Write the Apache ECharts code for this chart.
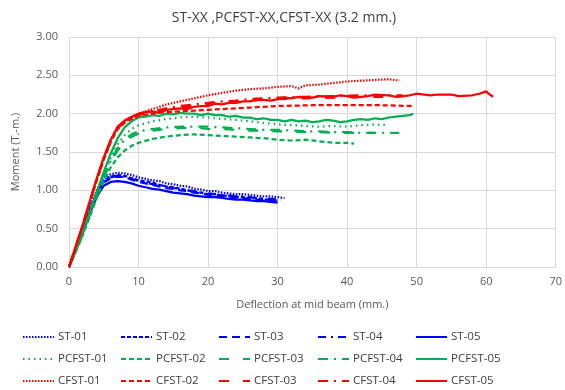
<!DOCTYPE html>
<html>
<head>
<meta charset="utf-8">
<script src="https://cdn.jsdelivr.net/npm/echarts@6/dist/echarts.min.js"></script>
<style>
  html, body { margin: 0; padding: 0; background: #fff; }
  #chart { width: 565px; height: 390px; }
</style>
</head>
<body>
<div id="chart"></div>
<script>
// 数据 [挠度 mm, 弯矩 T-m]
const st01 = [[0,0],[1,0.25],[2,0.5],[3,0.78],[4,1.0],[5,1.15],[6,1.21],[7,1.23],[8,1.22],[9,1.2],[10,1.17],[11,1.15],[12,1.13],[13,1.12],[14,1.09],[15,1.08],[16,1.06],[17,1.05],[18,1.02],[19,1.01],[20,0.99],[21,0.99],[22,0.97],[23,0.96],[24,0.95],[25,0.95],[26,0.94],[27,0.93],[28,0.92],[29,0.92],[30,0.91],[31,0.9]]
const st02 = [[0,0],[1,0.24],[2,0.48],[3,0.75],[4,0.97],[5,1.12],[6,1.18],[7,1.2],[8,1.19],[9,1.16],[10,1.13],[11,1.12],[12,1.1],[13,1.07],[14,1.05],[15,1.04],[16,1.02],[17,1.0],[18,0.98],[19,0.97],[20,0.95],[21,0.95],[22,0.93],[23,0.93],[24,0.92],[25,0.91],[26,0.9],[27,0.9],[28,0.88],[29,0.88],[30,0.87]]
const st03 = [[0,0],[1,0.23],[2,0.47],[3,0.73],[4,0.95],[5,1.1],[6,1.16],[7,1.18],[8,1.17],[9,1.14],[10,1.11],[11,1.09],[12,1.07],[13,1.05],[14,1.03],[15,1.02],[16,1.0],[17,0.99],[18,0.97],[19,0.96],[20,0.94],[21,0.93],[22,0.92],[23,0.91],[24,0.9],[25,0.9],[26,0.89],[27,0.88],[28,0.87],[29,0.87],[30,0.86]]
const st04 = [[0,0],[1,0.24],[2,0.48],[3,0.74],[4,0.96],[5,1.11],[6,1.17],[7,1.19],[8,1.18],[9,1.15],[10,1.12],[11,1.1],[12,1.08],[13,1.07],[14,1.05],[15,1.03],[16,1.02],[17,1.0],[18,0.99],[19,0.97],[20,0.96],[21,0.95],[22,0.94],[23,0.93],[24,0.92],[25,0.92],[26,0.91],[27,0.9],[28,0.89],[29,0.89],[30.5,0.88]]
const st05 = [[0,0],[1,0.22],[2,0.45],[3,0.7],[4,0.92],[5,1.06],[6,1.11],[7,1.12],[8,1.11],[9,1.09],[10,1.06],[11,1.04],[12,1.02],[13,1.01],[14,0.99],[15,0.97],[16,0.96],[17,0.95],[18,0.93],[19,0.92],[20,0.91],[21,0.91],[22,0.9],[23,0.89],[24,0.88],[25,0.88],[26,0.87],[27,0.86],[28,0.86],[29,0.85],[30,0.84]]

const pcfst01 = [[0,0],[1,0.22],[2,0.45],[3,0.7],[4,0.95],[5,1.2],[6,1.42],[7,1.6],[8,1.72],[9,1.8],[10,1.85],[12,1.9],[14,1.93],[16,1.95],[18,1.96],[20,1.95],[22,1.93],[24,1.92],[26,1.9],[28,1.88],[30,1.86],[32,1.85],[34,1.84],[36,1.83],[38,1.84],[40,1.83],[42,1.85],[44,1.86],[46,1.85]]
const pcfst02 = [[0,0],[1,0.2],[2,0.42],[3,0.66],[4,0.9],[5,1.12],[6,1.3],[7,1.43],[8,1.52],[9,1.58],[10,1.62],[12,1.67],[14,1.7],[16,1.72],[18,1.73],[20,1.72],[22,1.71],[24,1.7],[26,1.69],[28,1.68],[30,1.66],[32,1.65],[34,1.66],[36,1.64],[38,1.62],[40,1.62],[41,1.61]]
const pcfst03 = [[0,0],[1,0.21],[2,0.43],[3,0.68],[4,0.93],[5,1.17],[6,1.37],[7,1.52],[8,1.62],[9,1.7],[10,1.74],[12,1.78],[14,1.8],[16,1.81],[18,1.82],[20,1.8],[22,1.8],[24,1.79],[26,1.78],[28,1.78],[30,1.77],[32,1.77],[34,1.76],[36,1.76],[38,1.75],[40,1.75],[42,1.75],[44,1.75]]
const pcfst04 = [[0,0],[1,0.21],[2,0.44],[3,0.69],[4,0.94],[5,1.18],[6,1.39],[7,1.55],[8,1.66],[9,1.73],[10,1.77],[12,1.8],[14,1.82],[16,1.83],[18,1.83],[20,1.83],[22,1.82],[24,1.81],[26,1.8],[28,1.79],[30,1.79],[32,1.78],[34,1.77],[36,1.77],[38,1.76],[40,1.76],[42,1.75],[44,1.75],[46,1.75],[47.5,1.75]]
const pcfst05 = [[0,0],[1,0.22],[2,0.46],[3,0.72],[4,0.98],[5,1.24],[6,1.48],[7,1.68],[8,1.82],[9,1.9],[10,1.95],[11,1.96],[12,1.98],[13,1.97],[14,2.0],[15,1.99],[16,2.01],[17,2.0],[18,2.0],[19,1.98],[20,2.0],[21,1.98],[22,1.98],[23,1.96],[24,1.97],[25,1.95],[26,1.95],[27,1.93],[28,1.94],[29,1.92],[30,1.92],[31,1.9],[32,1.92],[33,1.9],[34,1.91],[35,1.89],[36,1.9],[37,1.92],[38,1.91],[39,1.89],[40,1.9],[41,1.92],[42,1.93],[43,1.92],[44,1.94],[45,1.93],[46,1.95],[47,1.96],[48,1.97],[49,1.98],[49.5,2.0]]

const cfst01 = [[0,0],[1,0.27],[2,0.55],[3,0.85],[4,1.15],[5,1.42],[6,1.65],[7,1.82],[8,1.9],[9,1.95],[10,2.0],[12,2.06],[14,2.12],[16,2.16],[18,2.2],[20,2.24],[22,2.27],[24,2.3],[26,2.32],[28,2.33],[30,2.35],[32,2.36],[33,2.33],[34,2.37],[36,2.38],[38,2.4],[40,2.42],[42,2.43],[44,2.44],[46,2.45],[47.5,2.43]]
const cfst02 = [[0,0],[1,0.27],[2,0.54],[3,0.84],[4,1.13],[5,1.4],[6,1.63],[7,1.8],[8,1.88],[9,1.93],[10,1.97],[12,2.0],[14,2.02],[16,2.03],[18,2.04],[20,2.05],[22,2.06],[24,2.07],[26,2.08],[28,2.09],[30,2.1],[35,2.11],[40,2.11],[45,2.11],[49.5,2.1]]
const cfst03 = [[0,0],[1,0.27],[2,0.55],[3,0.85],[4,1.14],[5,1.41],[6,1.64],[7,1.81],[8,1.89],[9,1.94],[10,1.98],[12,2.02],[14,2.05],[16,2.08],[18,2.1],[20,2.12],[22,2.14],[24,2.15],[26,2.17],[28,2.18],[30,2.19],[34,2.2],[38,2.21],[42,2.22],[46,2.22],[48,2.23]]
const cfst04 = [[0,0],[1,0.27],[2,0.55],[3,0.86],[4,1.15],[5,1.42],[6,1.65],[7,1.82],[8,1.9],[9,1.95],[10,1.99],[12,2.03],[14,2.07],[16,2.1],[18,2.12],[20,2.14],[22,2.16],[24,2.17],[26,2.19],[28,2.2],[30,2.21],[34,2.22],[38,2.23],[42,2.24],[46,2.24],[48,2.24]]
const cfst05 = [[0,0],[1,0.28],[2,0.56],[3,0.86],[4,1.16],[5,1.43],[6,1.66],[7,1.83],[8,1.91],[9,1.96],[10,2.0],[11,2.02],[12,2.03],[13,2.01],[14,2.05],[15,2.06],[16,2.07],[17,2.06],[18,2.09],[19,2.1],[20,2.1],[21,2.13],[22,2.12],[23,2.14],[24,2.14],[25,2.16],[26,2.16],[27,2.18],[28,2.18],[29,2.17],[30,2.19],[31,2.21],[32,2.2],[33,2.22],[35,2.21],[36,2.23],[38,2.22],[39,2.24],[40,2.23],[41,2.21],[43,2.23],[44,2.25],[46,2.24],[47,2.22],[49,2.24],[50,2.26],[52,2.24],[53,2.25],[55,2.25],[56,2.23],[58,2.24],[59,2.26],[60,2.29],[60.5,2.25],[61,2.22]]

const xTicks = [0, 70, 10]
const yTicks = [0, 3, 0.5]

const BLUE = "#0000ff"
const GREEN = "#00b050"
const RED = "#ff0000"

// 线型：点线、短划线、长划线、点划线、实线
const groups = [
  { color: BLUE, dash: [[1.5, 1.5], [4, 2], [8, 5], [8, 5, 2, 5], "solid"], names: ["ST-01", "ST-02", "ST-03", "ST-04", "ST-05"], data: [st01, st02, st03, st04, st05] },
  { color: GREEN, dash: [[1.5, 4], [5, 3], [10, 14], [10, 6, 2, 6], "solid"], names: ["PCFST-01", "PCFST-02", "PCFST-03", "PCFST-04", "PCFST-05"], data: [pcfst01, pcfst02, pcfst03, pcfst04, pcfst05] },
  { color: RED, dash: [[1.5, 1.5], [5, 3], [10, 14], [10, 6, 2, 6], "solid"], names: ["CFST-01", "CFST-02", "CFST-03", "CFST-04", "CFST-05"], data: [cfst01, cfst02, cfst03, cfst04, cfst05] }
]

const colLeft = [17, 115, 213, 312, 410]

const series = []
const legends = []
groups.forEach((g, gi) => {
  g.names.forEach((n, i) => {
    series.push({
      name: n,
      type: "line",
      data: g.data[i],
      symbol: "none",
      lineStyle: { color: g.color, width: 2.25, type: g.dash[i] },
      itemStyle: { color: g.color }
    })
    legends.push({
      data: [n],
      left: colLeft[i],
      top: 326 + gi * 22,
      itemWidth: 31,
      itemHeight: 14,
      selectedMode: false,
      itemStyle: { opacity: 0 },
      textStyle: { color: "#404040", fontSize: 11.5, fontFamily: "Open Sans", padding: [0, 0, 0, -1] }
    })
  })
})

const chart = echarts.init(document.getElementById("chart"), null, { renderer: "canvas" })

const option = {
  animation: false,
  title: {
    text: "ST-XX ,PCFST-XX,CFST-XX (3.2 mm.)",
    left: 279,
    textAlign: "center",
    top: 6,
    textStyle: { color: "#404040", fontSize: 14, fontWeight: "normal", fontFamily: "Open Sans" }
  },
  legend: legends,
  grid: { left: 69, right: 8, top: 37, bottom: 123 },
  xAxis: {
    type: "value",
    min: xTicks[0],
    max: xTicks[1],
    interval: xTicks[2],
    name: "Deflection at mid beam (mm.)",
    nameLocation: "middle",
    nameGap: 32,
    nameTextStyle: { color: "#595959", fontSize: 11, fontFamily: "Open Sans" },
    axisLine: { lineStyle: { color: "#d9d9d9" } },
    axisTick: { show: false },
    axisLabel: { color: "#595959", fontSize: 11, margin: 9, fontFamily: "Open Sans" },
    splitLine: { show: true, lineStyle: { color: "#d9d9d9" } }
  },
  yAxis: {
    type: "value",
    min: yTicks[0],
    max: yTicks[1],
    interval: yTicks[2],
    name: "Moment (T.-m.)",
    nameLocation: "middle",
    nameGap: 48,
    nameTextStyle: { color: "#595959", fontSize: 11, fontFamily: "Open Sans" },
    axisLine: { show: false },
    axisTick: { show: false },
    axisLabel: { color: "#595959", fontSize: 11, margin: 11, fontFamily: "Open Sans", formatter: v => v.toFixed(2) },
    splitLine: { show: true, lineStyle: { color: "#d9d9d9" } }
  },
  series: series
}

chart.setOption(option)
</script>
</body>
</html>
